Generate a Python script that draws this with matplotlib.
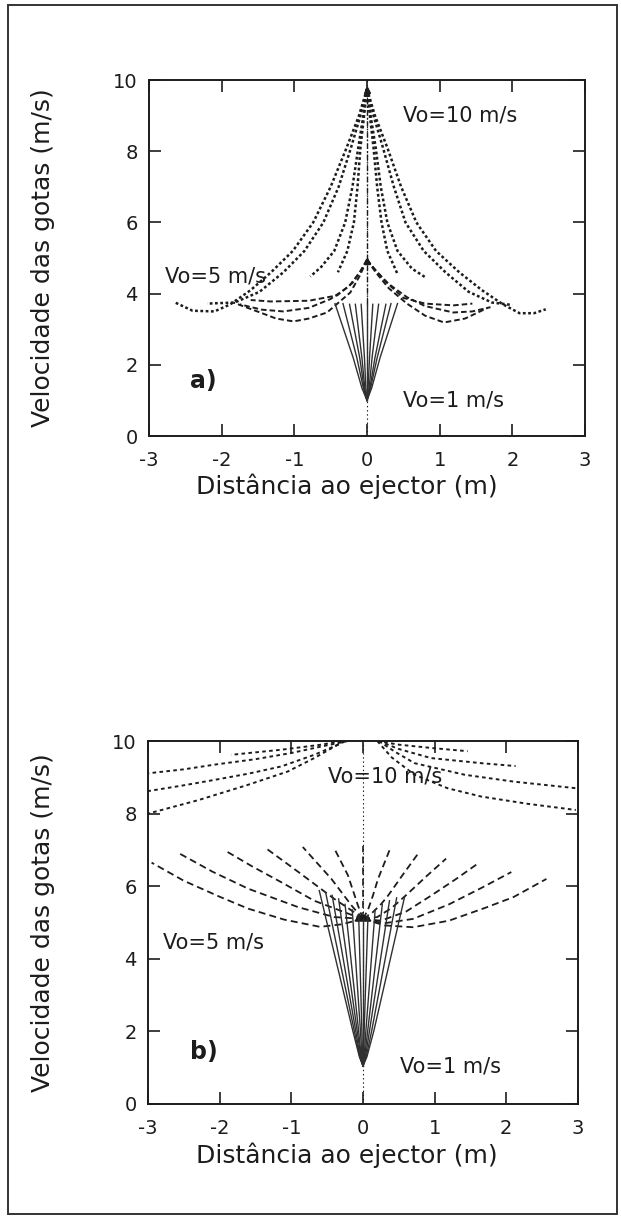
import matplotlib.pyplot as plt
from matplotlib.patches import Rectangle

# ================================
# 1. Dados - painel a)
# ================================
# Vo=10 m/s (pontilhado), lado direito e lado esquerdo
a10_x = [
    [0, 0.04, 0.09, 0.14, 0.20, 0.28, 0.42],
    [0, 0.05, 0.12, 0.19, 0.28, 0.42, 0.62, 0.81],
    [0, 0.09, 0.22, 0.37, 0.53, 0.78, 1.08, 1.40, 1.72, 2.00],
    [0, 0.11, 0.28, 0.47, 0.68, 0.95, 1.27, 1.58, 1.87, 2.10, 2.30, 2.46],
    [0, -0.04, -0.09, -0.13, -0.18, -0.27, -0.40],
    [0, -0.05, -0.12, -0.20, -0.30, -0.45, -0.63, -0.78],
    [0, -0.09, -0.22, -0.39, -0.60, -0.86, -1.15, -1.48, -1.82, -2.20],
    [0, -0.11, -0.28, -0.50, -0.74, -1.02, -1.32, -1.60, -1.88, -2.10, -2.40, -2.64],
]
a10_y = [
    [9.75, 9.0, 8.1, 7.0, 6.0, 5.2, 4.55],
    [9.75, 9.0, 8.1, 7.0, 6.0, 5.2, 4.70, 4.45],
    [9.75, 9.0, 8.1, 7.0, 6.0, 5.2, 4.60, 4.05, 3.75, 3.68],
    [9.75, 9.0, 8.1, 7.0, 6.0, 5.2, 4.60, 4.10, 3.70, 3.45, 3.45, 3.56],
    [9.75, 9.0, 8.1, 7.0, 6.0, 5.2, 4.60],
    [9.75, 9.0, 8.1, 7.0, 6.0, 5.2, 4.75, 4.48],
    [9.75, 9.0, 8.1, 7.0, 6.0, 5.2, 4.60, 4.05, 3.75, 3.72],
    [9.75, 9.0, 8.1, 7.0, 6.0, 5.2, 4.60, 4.10, 3.70, 3.50, 3.52, 3.75],
]

# Vo=5 m/s (tracejado)
a5_x = [
    [0, 0.12, 0.30, 0.55, 0.80, 1.06, 1.35, 1.66],
    [0, 0.12, 0.30, 0.55, 0.80, 1.19, 1.45, 1.70],
    [0, 0.10, 0.25, 0.50, 0.80, 1.19, 1.45],
    [0, -0.10, -0.23, -0.55, -0.80, -1.01, -1.25, -1.47, -1.84],
    [0, -0.10, -0.25, -0.50, -0.80, -1.15, -1.45, -1.75],
    [0, -0.08, -0.20, -0.41, -0.80, -1.33, -1.60],
]
a5_y = [
    [4.95, 4.60, 4.15, 3.72, 3.38, 3.19, 3.30, 3.60],
    [4.95, 4.65, 4.27, 3.90, 3.65, 3.47, 3.50, 3.62],
    [4.95, 4.70, 4.35, 3.88, 3.72, 3.67, 3.72],
    [4.95, 4.50, 4.03, 3.47, 3.30, 3.22, 3.30, 3.47, 3.75],
    [4.95, 4.60, 4.20, 3.85, 3.60, 3.50, 3.55, 3.70],
    [4.95, 4.65, 4.30, 3.95, 3.80, 3.78, 3.82],
]

# Vo=1 m/s (linhas continuas): pontos a 1.0, 1.35, 2.2 m/s e topo
a1_low_x = [-0.07, -0.05, -0.04, -0.03, -0.015, 0, 0.015, 0.03, 0.04, 0.05, 0.065]
a1_mid_x = [-0.19, -0.14, -0.10, -0.07, -0.035, 0, 0.035, 0.07, 0.11, 0.14, 0.18]
a1_top_x = [-0.44, -0.33, -0.24, -0.16, -0.08, 0, 0.08, 0.16, 0.26, 0.33, 0.42]
a1_top_y = [3.72, 3.72, 3.70, 3.70, 3.70, 3.70, 3.70, 3.70, 3.70, 3.72, 3.72]
a1_levels = [1.0, 1.35, 2.2]

# ================================
# 2. Dados - painel b)
# ================================
b10_x = [
    [-0.21, -0.58, -1.00, -1.50, -2.07, -2.50, -3.00],
    [-0.25, -0.30, -0.68, -1.14, -1.60, -2.07, -2.50, -3.00],
    [-0.26, -0.35, -0.68, -1.05, -1.61, -2.30, -3.00],
    [-0.30, -0.58, -1.14, -1.84],
    [0.20, 0.50, 1.00, 1.46],
    [0.22, 0.50, 0.95, 1.65, 2.13],
    [0.22, 0.45, 0.72, 1.42, 2.11, 2.97],
    [0.20, 0.40, 0.72, 1.18, 1.65, 2.30, 2.97],
]
b10_y = [
    [10.0, 9.85, 9.67, 9.50, 9.35, 9.22, 9.11],
    [10.0, 9.94, 9.62, 9.30, 9.10, 8.93, 8.78, 8.62],
    [10.0, 9.90, 9.53, 9.16, 8.79, 8.37, 8.00],
    [10.0, 9.90, 9.76, 9.62],
    [10.0, 9.90, 9.80, 9.72],
    [10.0, 9.78, 9.53, 9.39, 9.31],
    [10.0, 9.70, 9.39, 9.07, 8.88, 8.70],
    [10.0, 9.55, 9.07, 8.70, 8.47, 8.27, 8.10],
]

b5_x = [
    [0, -0.30, -0.60, -1.10, -1.60, -2.00, -2.50, -2.95],
    [0, -0.40, -0.90, -1.60, -2.10, -2.56],
    [0, -0.20, -0.68, -1.14, -1.55, -1.93],
    [0, -0.12, -0.40, -0.90, -1.35],
    [0, -0.16, -0.44, -0.84],
    [0, -0.07, -0.21, -0.40],
    [0, 0.30, 0.70, 1.20, 1.70, 2.10, 2.56],
    [0, 0.30, 0.70, 1.20, 1.65, 2.07],
    [0, 0.25, 0.60, 0.95, 1.30, 1.60],
    [0, 0.20, 0.40, 0.60, 0.90, 1.16],
    [0, 0.12, 0.25, 0.35, 0.55, 0.77],
    [0, 0.07, 0.14, 0.21, 0.37],
]
b5_y = [
    [5.10, 4.95, 4.88, 5.08, 5.38, 5.71, 6.15, 6.65],
    [5.10, 5.15, 5.42, 5.93, 6.40, 6.90],
    [5.10, 5.24, 5.60, 6.11, 6.55, 6.99],
    [5.10, 5.28, 5.65, 6.39, 7.04],
    [5.10, 5.47, 6.20, 7.08],
    [5.10, 5.47, 6.30, 7.04],
    [5.10, 4.92, 4.87, 5.05, 5.40, 5.70, 6.20],
    [5.10, 4.98, 5.10, 5.50, 5.95, 6.39],
    [5.10, 5.05, 5.30, 5.74, 6.20, 6.62],
    [5.10, 5.15, 5.40, 5.75, 6.30, 6.76],
    [5.10, 5.25, 5.50, 5.74, 6.30, 6.90],
    [5.10, 5.35, 5.75, 6.20, 6.99],
]

b1_low_x = [-0.05, -0.045, -0.04, -0.03, -0.025, -0.015, -0.006, 0, 0.007, 0.016, 0.025, 0.035, 0.045, 0.055]
b1_mid_x = [-0.14, -0.12, -0.10, -0.08, -0.06, -0.035, -0.015, 0, 0.016, 0.04, 0.065, 0.09, 0.12, 0.15]
b1_top_x = [-0.61, -0.52, -0.43, -0.34, -0.25, -0.15, -0.06, 0, 0.07, 0.17, 0.27, 0.37, 0.47, 0.58]
b1_top_y = [5.88, 5.82, 5.75, 5.65, 5.50, 5.35, 5.20, 5.10, 5.20, 5.35, 5.50, 5.60, 5.68, 5.70]
b1_levels = [1.05, 1.3, 2.0]

# cupula escura em Vo=5 (painel b)
dome_x = [-0.11, -0.07, 0, 0.07, 0.11]
dome_y = [5.04, 5.15, 5.19, 5.15, 5.04]

# ================================
# 3. Figura
# ================================
plt.rcParams['lines.scale_dashes'] = False
plt.rcParams['axes.unicode_minus'] = False
ink = '#1c1c1c'

fig = plt.figure(figsize=(6.21, 12.2), dpi=100)
fig.patches.append(Rectangle((0.013, 0.005), 0.981, 0.991, transform=fig.transFigure,
                             fill=False, lw=1.4, ec='#333333'))

ax_a = fig.add_axes([0.2399, 0.6426, 0.7021, 0.2918])
ax_b = fig.add_axes([0.2383, 0.0951, 0.6924, 0.2975])


def estilo(ax, lx, ly):
    ax.set_xlim(-3, 3)
    ax.set_ylim(0, 10)
    ax.set_xticks([-3, -2, -1, 0, 1, 2, 3])
    ax.set_yticks([0, 2, 4, 6, 8, 10])
    ax.tick_params(direction='in', top=True, right=True, length=8.5, width=1.2,
                   labelsize=14, colors=ink)
    ax.tick_params(axis='x', pad=11)
    ax.tick_params(axis='y', pad=8)
    for s in ax.spines.values():
        s.set_linewidth(1.4)
        s.set_color(ink)
    ax.set_xlabel('Distância ao ejector (m)', fontsize=18, color=ink)
    ax.set_ylabel('Velocidade das gotas (m/s)', fontsize=18, color=ink)
    ax.xaxis.set_label_coords(lx, -0.105)
    ax.yaxis.set_label_coords(ly, 0.5)


# ---- painel a) ----
ax = ax_a
ax.plot([0, 0], [0, 10], color=ink, lw=0.8, ls=(0, (1, 2)))
ax.plot([0, 0], [3.7, 9.75], color=ink, lw=1.0, ls=(0, (4, 1.5, 1, 1.5)))
for xs, ys in zip(a10_x, a10_y):
    ax.plot(xs, ys, color=ink, lw=1.8, ls=(0, (2, 1.8)))
for xs, ys in zip(a5_x, a5_y):
    ax.plot(xs, ys, color=ink, lw=1.4, ls=(0, (4, 2.2)))
for xl, xm, xt, yt in zip(a1_low_x, a1_mid_x, a1_top_x, a1_top_y):
    ax.plot([0, xl, xm, xt], a1_levels + [yt], color='#303030', lw=1.0)
ax.plot([0, 0], [9.72, 4.93], ls='none', marker='^', ms=5, color=ink)
ax.text(0.5, 9.0, 'Vo=10 m/s', fontsize=15, color=ink, va='center')
ax.text(-2.78, 4.48, 'Vo=5 m/s', fontsize=15, color=ink, va='center')
ax.text(0.5, 1.0, 'Vo=1 m/s', fontsize=15, color=ink, va='center')
ax.text(-2.43, 1.54, 'a)', fontsize=17, fontweight='bold', color=ink, va='center')
estilo(ax, 0.454, -0.216)

# ---- painel b) ----
ax = ax_b
ax.plot([0, 0], [0, 10], color=ink, lw=0.8, ls=(0, (1, 2)))
ax.plot([0, 0], [5.1, 7.1], color=ink, lw=1.2, ls=(0, (5, 3)))
for xs, ys in zip(b10_x, b10_y):
    ax.plot(xs, ys, color=ink, lw=1.4, ls=(0, (2.6, 2.4)))
for xs, ys in zip(b5_x, b5_y):
    ax.plot(xs, ys, color=ink, lw=1.3, ls=(0, (5, 3)))
for xl, xm, xt, yt in zip(b1_low_x, b1_mid_x, b1_top_x, b1_top_y):
    ax.plot([0, xl, xm, xt], b1_levels + [yt], color='#303030', lw=1.0)
ax.fill(dome_x, dome_y, color=ink)
ax.text(-0.49, 9.03, 'Vo=10 m/s', fontsize=15, color=ink, va='center')
ax.text(-2.79, 4.46, 'Vo=5 m/s', fontsize=15, color=ink, va='center')
ax.text(0.51, 1.02, 'Vo=1 m/s', fontsize=15, color=ink, va='center')
ax.text(-2.41, 1.44, 'b)', fontsize=17, fontweight='bold', color=ink, va='center')
estilo(ax, 0.463, -0.216)

plt.savefig('out.png', dpi=100)
